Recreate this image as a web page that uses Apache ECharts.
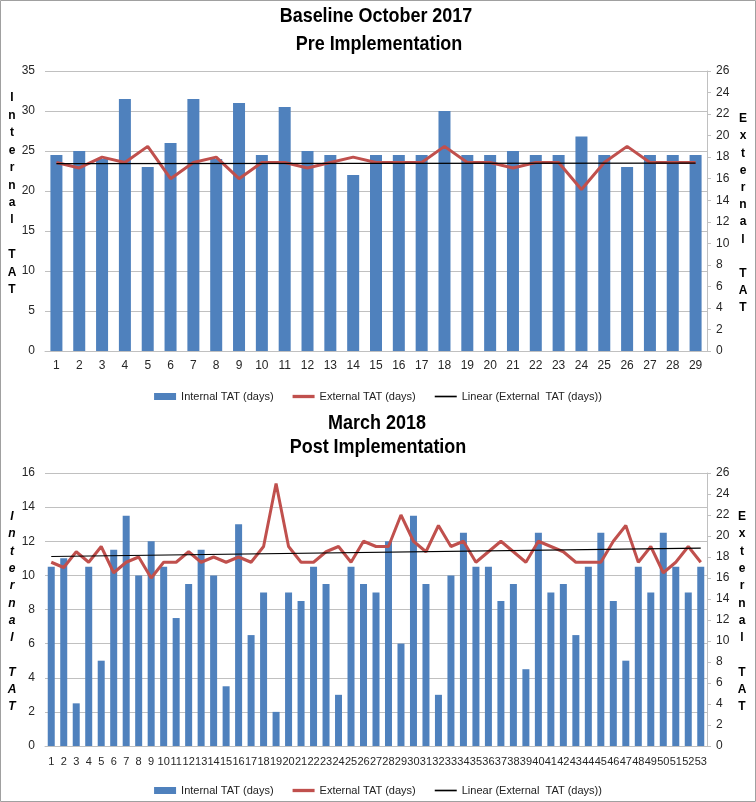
<!DOCTYPE html>
<html>
<head>
<meta charset="utf-8">
<script src="https://cdn.jsdelivr.net/npm/echarts@6/dist/echarts.min.js"></script>
<style>
html,body{margin:0;padding:0;background:#fff;}
#chart{width:756px;height:802px;}
</style>
</head>
<body>
<div id="chart"></div>
<script>
// ---- Data ----
var topCategories = ['1','2','3','4','5','6','7','8','9','10','11','12','13','14','15','16','17','18','19','20','21','22','23','24','25','26','27','28','29'];
var topInternal = [24.5,25,24,31.5,23,26,31.5,24,31,24.5,30.5,25,24.5,22,24.5,24.5,24.5,30,24.5,24.5,25,24.5,24.5,26.8,24.5,23,24.5,24.5,24.5];
var topExternal = [17.5,17,18,17.5,19,16,17.5,18,16,17.5,17.5,17,17.5,18,17.5,17.5,17.5,19,17.5,17.5,17,17.5,17.5,15,17.5,19,17.5,17.5,17.5];
var topTrendEnds = [17.4, 17.45];

var bottomCategories = ['1','2','3','4','5','6','7','8','9','10','11','12','13','14','15','16','17','18','19','20','21','22','23','24','25','26','27','28','29','30','31','32','33','34','35','36','37','38','39','40','41','42','43','44','45','46','47','48','49','50','51','52','53'];
var bottomInternal = [10.5,11,2.5,10.5,5,11.5,13.5,10,12,10.5,7.5,9.5,11.5,10,3.5,13,6.5,9,2,9,8.5,10.5,9.5,3,10.5,9.5,9,12,6,13.5,9.5,3,10,12.5,10.5,10.5,8.5,9.5,4.5,12.5,9,9.5,6.5,10.5,12.5,8.5,5,10.5,9,12.5,10.5,9,10.5];
var bottomExternal = [17.5,17,18.5,17.5,19,16.5,17.5,18,16,17.5,17.5,18.5,17.5,18,17.5,18,17.5,19,25,19,17.5,17.5,18.5,19,17.5,19.5,19,19,22,19.5,18.5,21,19,19.5,17.5,18.5,19.5,18.5,17.5,19.5,19,18.5,17.5,17.5,17.5,19.5,21,17.5,19,16.5,17.5,19,17.5];
var bottomTrendEnds = [18.05, 18.85];

var leftTicksTop = {min:0, max:35, interval:5};
var rightTicks = {min:0, max:26, interval:2};
var leftTicksBottom = {min:0, max:16, interval:2};

var titles = ['Baseline October 2017','Pre Implementation','March 2018','Post Implementation'];
var seriesNames = ['Internal TAT (days)','External TAT (days)','Linear (External  TAT (days))'];
var leftName = 'I\nn\nt\ne\nr\nn\na\nl\n \nT\nA\nT';
var rightName = 'E\nx\nt\ne\nr\nn\na\nl\n \nT\nA\nT';

// ---- Helpers ----
function trendData(n, ends){
  var d = [];
  for (var i = 0; i < n; i++) d.push(null);
  d[0] = ends[0]; d[n-1] = ends[1];
  return d;
}
var BLUE = '#4f81bd', RED = '#c0504d', GRID = '#c0c0c0', LABEL = '#262626';
var sans = '"Liberation Sans",Arial,sans-serif';

function xAx(idx, cats, fs, margin){
  return {gridIndex: idx, type:'category', data: cats,
    axisLine:{show:true, lineStyle:{color:GRID, width:1}},
    axisTick:{show:false},
    axisLabel:{interval:0, fontSize:fs, color:LABEL, fontFamily:sans, margin:margin}};
}
function yLeft(idx, t){
  return {gridIndex: idx, type:'value', min:t.min, max:t.max, interval:t.interval,
    axisLine:{show:false}, axisTick:{show:false},
    splitLine:{show:true, lineStyle:{color:GRID, width:1}},
    axisLabel:{fontSize:12, color:LABEL, fontFamily:sans, margin:10}};
}
function yRight(idx, t){
  return {gridIndex: idx, type:'value', position:'right', min:t.min, max:t.max, interval:t.interval,
    axisLine:{show:true, lineStyle:{color:GRID, width:1}},
    axisTick:{show:true, inside:false, length:4, lineStyle:{color:GRID}},
    splitLine:{show:false},
    axisLabel:{fontSize:12, color:LABEL, fontFamily:sans, margin:9}};
}
function legendAt(top){
  return {top: top, left:'center', itemWidth:22, itemHeight:8, itemGap:19,
    textStyle:{fontSize:11, color:'#222', fontFamily:sans},
    data:[
      {name:seriesNames[0], icon:'path://M0,0H22V7H0Z'},
      {name:seriesNames[1], icon:'path://M0,0H20V3H0Z'},
      {name:seriesNames[2], icon:'path://M0,0H20V1.5H0Z'}
    ]};
}
function txt(text, x, y, font, lh, sx){
  return {type:'text', silent:true, x:x, y:y, scaleX:(sx || 1),
    style:{text:text, x:0, y:0, align:'center', verticalAlign:'middle', font:font, lineHeight:lh, fill:'#000'}};
}

var option = {
  animation:false,
  backgroundColor:'#fff',
  grid:[
    {left:45, right:49, top:71, height:280},
    {left:45, right:49, top:473, height:273}
  ],
  xAxis:[ xAx(0, topCategories, 12, 9), xAx(1, bottomCategories, 11, 10) ],
  yAxis:[ yLeft(0, leftTicksTop), yRight(0, rightTicks), yLeft(1, leftTicksBottom), yRight(1, rightTicks) ],
  legend:[ legendAt(386), legendAt(780) ],
  series:[
    {name:seriesNames[0], type:'bar', xAxisIndex:0, yAxisIndex:0, data:topInternal, barWidth:12, itemStyle:{color:BLUE}},
    {name:seriesNames[1], type:'line', xAxisIndex:0, yAxisIndex:1, data:topExternal, symbol:'none', lineStyle:{color:RED, width:3}, itemStyle:{color:RED}},
    {name:seriesNames[2], type:'line', xAxisIndex:0, yAxisIndex:1, data:trendData(topCategories.length, topTrendEnds), connectNulls:true, symbol:'none', lineStyle:{color:'#000', width:1.2}, itemStyle:{color:'#000'}, z:5},
    {name:seriesNames[0], type:'bar', xAxisIndex:1, yAxisIndex:2, data:bottomInternal, barWidth:7, itemStyle:{color:BLUE}},
    {name:seriesNames[1], type:'line', xAxisIndex:1, yAxisIndex:3, data:bottomExternal, symbol:'none', lineStyle:{color:RED, width:3}, itemStyle:{color:RED}},
    {name:seriesNames[2], type:'line', xAxisIndex:1, yAxisIndex:3, data:trendData(bottomCategories.length, bottomTrendEnds), connectNulls:true, symbol:'none', lineStyle:{color:'#000', width:1.2}, itemStyle:{color:'#000'}, z:5}
  ],
  graphic:[
    {type:'rect', silent:true, shape:{x:0.5, y:0.5, width:755, height:801}, style:{fill:null, stroke:'#a0a0a0', lineWidth:1}},
    txt(titles[0], 376, 16, 'bold 21px ' + sans, 24, 0.855),
    txt(titles[1], 379, 44, 'bold 21px ' + sans, 24, 0.855),
    txt(titles[2], 377, 423, 'bold 21px ' + sans, 24, 0.855),
    txt(titles[3], 378, 447, 'bold 21px ' + sans, 24, 0.855),
    txt(leftName, 12, 194, 'bold 12px ' + sans, 17.45),
    txt(rightName, 743, 213.5, 'bold 12px ' + sans, 17.2),
    txt(leftName, 12, 612, 'italic bold 12px ' + sans, 17.3),
    txt(rightName, 742, 612, 'bold 12px ' + sans, 17.3)
  ]
};
var chart = echarts.init(document.getElementById('chart'), null, {renderer:'canvas'});
chart.setOption(option);
</script>
</body>
</html>
